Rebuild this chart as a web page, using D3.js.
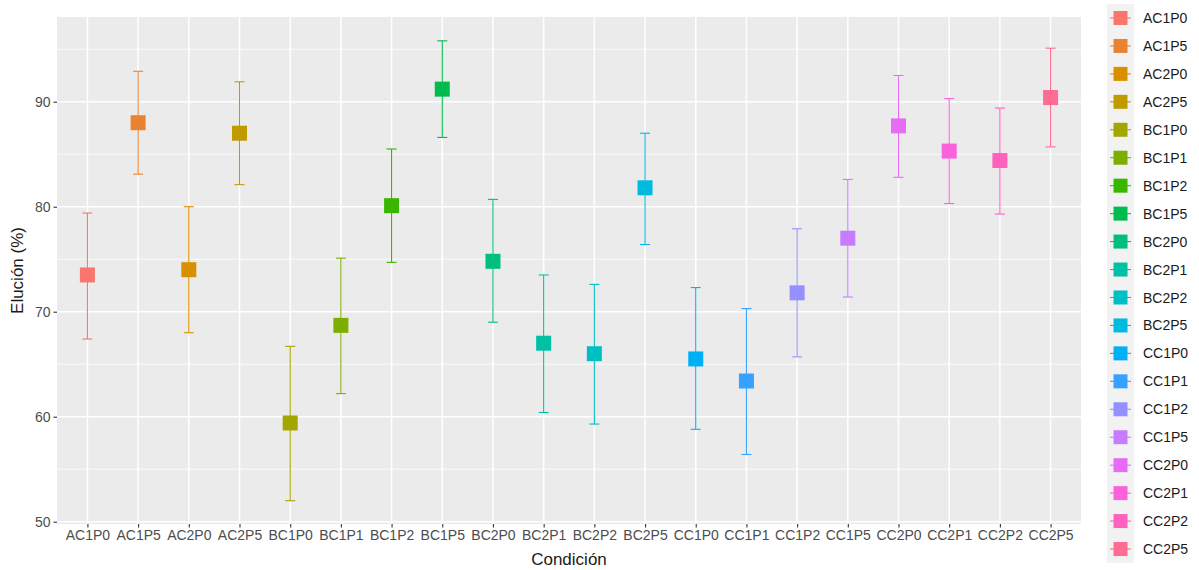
<!DOCTYPE html>
<html>
<head>
<meta charset="utf-8">
<script src="https://cdn.jsdelivr.net/npm/d3@7"></script>
<style>
  html, body { margin: 0; padding: 0; background: #fff; }
  svg { display: block; font-family: "Liberation Sans", Arial, sans-serif; }
</style>
</head>
<body>
<svg id="chart" width="1199" height="570"></svg>
<script>
// Condition labels (x axis and legend order)
const categories = ["AC1P0","AC1P5","AC2P0","AC2P5","BC1P0","BC1P1","BC1P2","BC1P5","BC2P0","BC2P1",
                    "BC2P2","BC2P5","CC1P0","CC1P1","CC1P2","CC1P5","CC2P0","CC2P1","CC2P2","CC2P5"];
// Mean elution (%) per condition
const meanValues = [73.5, 88.0, 74.0, 87.0, 59.4, 68.7, 80.1, 91.2, 74.8, 67.0,
                    66.0, 81.8, 65.5, 63.4, 71.8, 77.0, 87.7, 85.3, 84.4, 90.4];
// Lower and upper error bar limits
const lowerValues = [67.4, 83.1, 68.0, 82.1, 52.0, 62.2, 74.7, 86.6, 69.0, 60.4,
                     59.3, 76.4, 58.8, 56.4, 65.7, 71.4, 82.8, 80.3, 79.3, 85.7];
const upperValues = [79.4, 92.9, 80.0, 91.9, 66.7, 75.1, 85.5, 95.8, 80.7, 73.5,
                     72.6, 87.0, 72.3, 70.3, 77.9, 82.6, 92.5, 90.3, 89.4, 95.1];
// Colour per condition
const palette = ["#F8766D","#EA8331","#D89000","#C09B00","#A3A500","#7CAE00","#39B600","#00BB4E","#00BF7D","#00C1A3",
                 "#00BFC4","#00BAE0","#00B0F6","#35A2FF","#9590FF","#C77CFF","#E76BF3","#FA62DB","#FF62BC","#FF6C91"];
// Y axis ticks
const yTicks = [50, 60, 70, 80, 90];
const yMinorTicks = [55, 65, 75, 85, 95];
const xTitle = "Condición";
const yTitle = "Elución (%)";

const svg = d3.select("#chart");
const panel = { left: 57, right: 1081, top: 17, bottom: 524 };

const x = d3.scalePoint().domain(categories).range([panel.left, panel.right]).padding(0.6);
const y = d3.scaleLinear().domain([49.78, 98.07]).range([panel.bottom, panel.top]);
const color = d3.scaleOrdinal().domain(categories).range(palette);

// Panel background
svg.append("rect")
  .attr("x", panel.left).attr("y", panel.top)
  .attr("width", panel.right - panel.left).attr("height", panel.bottom - panel.top)
  .attr("fill", "#EBEBEB");

// Grid
const grid = svg.append("g");
grid.selectAll("line.minor").data(yMinorTicks).join("line")
  .attr("x1", panel.left).attr("x2", panel.right)
  .attr("y1", d => y(d)).attr("y2", d => y(d))
  .attr("stroke", "#fff").attr("stroke-width", 0.8);
grid.selectAll("line.majory").data(yTicks).join("line")
  .attr("x1", panel.left).attr("x2", panel.right)
  .attr("y1", d => y(d)).attr("y2", d => y(d))
  .attr("stroke", "#fff").attr("stroke-width", 1.5);
grid.selectAll("line.majorx").data(categories).join("line")
  .attr("y1", panel.top).attr("y2", panel.bottom)
  .attr("x1", d => x(d)).attr("x2", d => x(d))
  .attr("stroke", "#fff").attr("stroke-width", 1.5);

// Rows of data
const rows = categories.map((c, i) => ({ c, m: meanValues[i], lo: lowerValues[i], hi: upperValues[i] }));

// Error bars
const eb = svg.append("g").selectAll("g").data(rows).join("g");
eb.append("line")
  .attr("x1", d => x(d.c)).attr("x2", d => x(d.c))
  .attr("y1", d => y(d.lo)).attr("y2", d => y(d.hi))
  .attr("stroke", d => color(d.c)).attr("stroke-width", 1.1);
eb.selectAll("line.cap").data(d => [{ c: d.c, v: d.lo }, { c: d.c, v: d.hi }]).join("line")
  .attr("x1", d => x(d.c) - 5).attr("x2", d => x(d.c) + 5)
  .attr("y1", d => y(d.v)).attr("y2", d => y(d.v))
  .attr("stroke", d => color(d.c)).attr("stroke-width", 1.1);

// Mean points (squares)
const sq = 15;
svg.append("g").selectAll("rect").data(rows).join("rect")
  .attr("x", d => x(d.c) - sq / 2).attr("y", d => y(d.m) - sq / 2)
  .attr("width", sq).attr("height", sq)
  .attr("fill", d => color(d.c));

// Axes
const xAxis = svg.append("g")
  .attr("transform", `translate(0,${panel.bottom})`)
  .call(d3.axisBottom(x).tickSize(3.5).tickPadding(3));
const yAxis = svg.append("g")
  .attr("transform", `translate(${panel.left},0)`)
  .call(d3.axisLeft(y).tickValues(yTicks).tickSize(3.5).tickPadding(3));
[xAxis, yAxis].forEach(a => {
  a.select(".domain").remove();
  a.selectAll(".tick line").attr("stroke", "#333").attr("stroke-width", 1.1);
  a.selectAll(".tick text").attr("fill", "#4D4D4D").attr("font-size", "14px")
    .attr("font-family", "'Liberation Sans', Arial, sans-serif");
});

// Axis titles
svg.append("text")
  .attr("x", (panel.left + panel.right) / 2).attr("y", 565)
  .attr("text-anchor", "middle").attr("font-size", "17px").attr("fill", "#1a1a1a")
  .text(xTitle);
svg.append("text")
  .attr("transform", `translate(23,${(panel.top + panel.bottom) / 2}) rotate(-90)`)
  .attr("text-anchor", "middle").attr("font-size", "17px").attr("fill", "#1a1a1a")
  .text(yTitle);

// Legend
const legendTop = 4, keyH = 27.95, keyX = 1107, keyW = 27;
const legend = svg.append("g");
legend.append("rect")
  .attr("x", keyX).attr("y", legendTop)
  .attr("width", keyW).attr("height", keyH * categories.length)
  .attr("fill", "#F2F2F2");
const items = legend.selectAll("g.item").data(categories).join("g")
  .attr("transform", (d, i) => `translate(0,${legendTop + keyH * i + keyH / 2})`);
items.append("line")
  .attr("x1", keyX + 3).attr("x2", keyX + keyW - 3)
  .attr("y1", 0).attr("y2", 0)
  .attr("stroke", d => color(d)).attr("stroke-width", 1.1);
items.append("rect")
  .attr("x", keyX + keyW / 2 - 7).attr("y", -7)
  .attr("width", 14).attr("height", 14)
  .attr("fill", d => color(d));
items.append("text")
  .attr("x", 1143).attr("y", 0).attr("dy", "0.36em")
  .attr("font-size", "14px").attr("fill", "#1a1a1a")
  .text(d => d);
</script>
</body>
</html>
